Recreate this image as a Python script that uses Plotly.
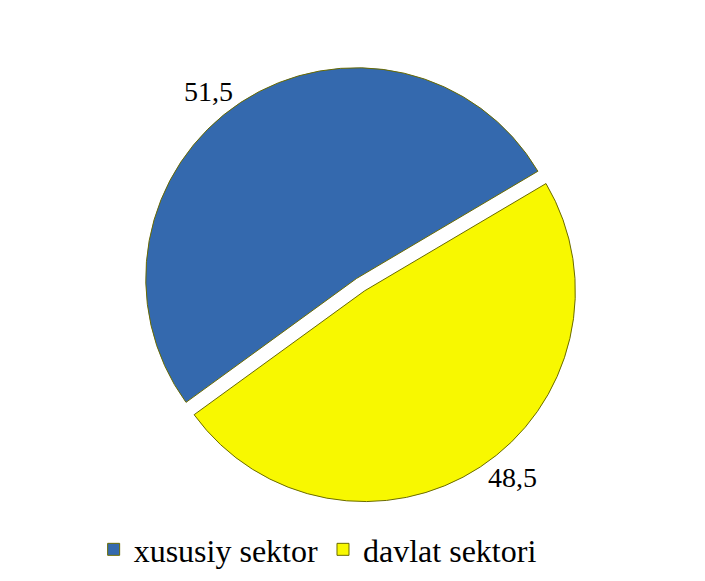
import plotly.graph_objects as go

categories = ["xususiy sektor", "davlat sektori"]
values = [51.5, 48.5]
colors = ["#3469AE", "#F8F800"]
pulls = [0.0, 0.07]

fig = go.Figure(
    go.Pie(
        labels=categories,
        values=values,
        sort=False,
        direction="clockwise",
        rotation=234,
        pull=pulls,
        marker=dict(colors=colors, line=dict(color="#6B6B00", width=1)),
        texttemplate="%{value:.1f}",
        textposition="outside",
        textfont=dict(family="Liberation Serif, DejaVu Serif, serif", size=28, color="black"),
        hoverinfo="label+value",
        domain=dict(x=[0.0, 1.0], y=[0.0, 1.0]),
    )
)

fig.update_layout(
    width=705,
    height=581,
    separators=", ",
    paper_bgcolor="white",
    plot_bgcolor="white",
    margin=dict(l=40, r=40, t=45, b=75),
    showlegend=True,
    legend=dict(
        orientation="h",
        x=0.43,
        xanchor="center",
        y=-0.04,
        yanchor="top",
        font=dict(family="Liberation Serif, DejaVu Serif, serif", size=32, color="black"),
        itemwidth=30,
    ),
)

fig.write_html("out.html")
